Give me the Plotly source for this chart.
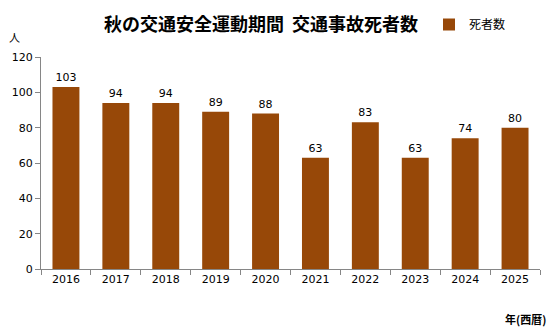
import plotly.graph_objects as go

years = ["2016", "2017", "2018", "2019", "2020", "2021", "2022", "2023", "2024", "2025"]
deaths = [103, 94, 94, 89, 88, 63, 83, 63, 74, 80]
y_ticks = [0, 20, 40, 60, 80, 100, 120]

bar_color = "#974808"
axis_color = "#868686"
jp_font = "Noto Sans CJK JP"
num_font = "DejaVu Sans"

W, H = 556, 335
L, R, T, B = 41, 16, 57, 66
pw = W - L - R
ph = H - T - B
def px(xp): return (xp - L) / pw
def py(yp): return (H - B - yp) / ph

fig = go.Figure()
fig.add_trace(go.Bar(
    x=years, y=deaths, name="死者数",
    marker=dict(color=bar_color, line=dict(width=0)),
    text=[str(v) for v in deaths], textposition="outside",
    textfont=dict(family=num_font, size=11, color="#000000"),
    cliponaxis=False,
))

fig.update_layout(
    width=W, height=H,
    margin=dict(l=L, r=R, t=T, b=B, autoexpand=False),
    paper_bgcolor="white", plot_bgcolor="white",
    bargap=0.46,
    showlegend=True,
    legend=dict(x=px(429), xanchor="left", y=py(10), yanchor="top",
                font=dict(family=jp_font, size=12, color="#000"),
                bgcolor="rgba(0,0,0,0)", itemwidth=30,
                borderwidth=0),
    title=dict(text="<b>秋の交通安全運動期間  交通事故死者数</b>",
               x=261 / W, xref="container", xanchor="center",
               y=1 - 25 / H, yref="container", yanchor="middle",
               font=dict(family=jp_font, size=18, color="#000")),
    xaxis=dict(type="category", showline=True, linecolor=axis_color, linewidth=1,
               ticks="outside", ticklen=5, tickcolor=axis_color,
               tickson="boundaries",
               tickfont=dict(family=num_font, size=11, color="#000"),
               showgrid=False),
    yaxis=dict(range=[0, 120], tickvals=y_ticks, showline=True, linecolor=axis_color,
               linewidth=1, ticks="outside", ticklen=5, tickcolor=axis_color,
               tickfont=dict(family=num_font, size=11, color="#000"),
               showgrid=False, zeroline=False),
    annotations=[
        dict(text="人", x=px(14), y=py(37), xref="paper", yref="paper",
             xanchor="center", yanchor="middle", showarrow=False,
             font=dict(family=jp_font, size=11, color="#000")),
        dict(text="<b>年(西暦)</b>", x=px(525), y=py(319), xref="paper", yref="paper",
             xanchor="center", yanchor="middle", showarrow=False,
             font=dict(family=jp_font, size=11, color="#000")),
    ],
)

fig.write_html("out.html")
